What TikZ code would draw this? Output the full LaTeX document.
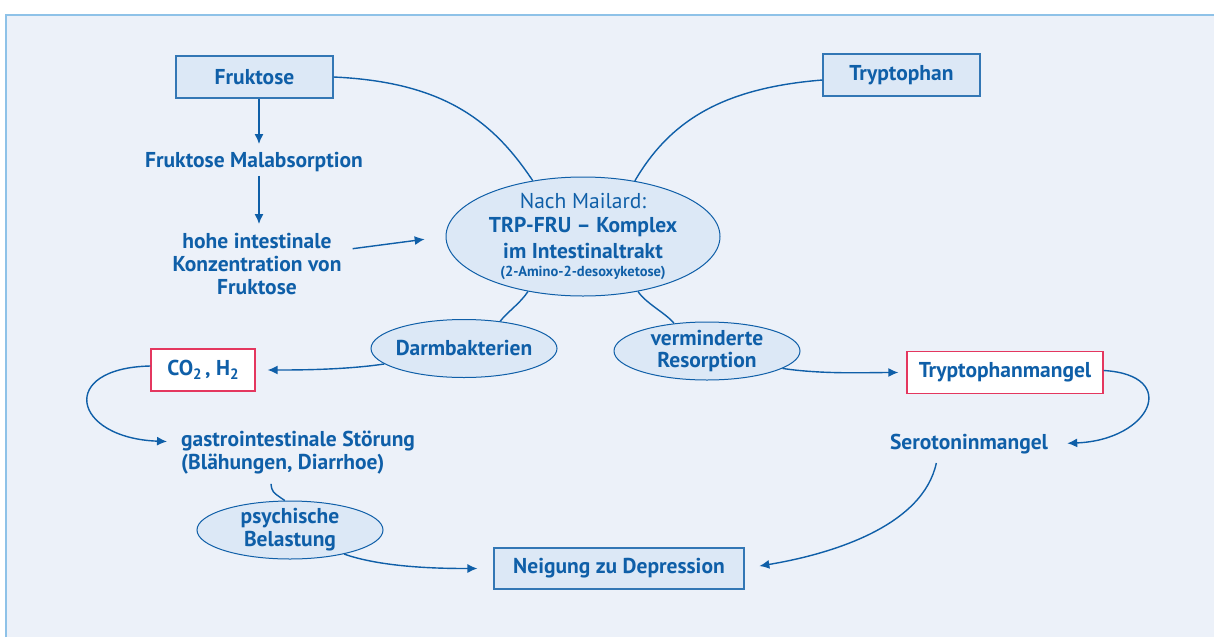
\documentclass[tikz,border=0pt]{standalone}
\usepackage{fontspec}
\setmainfont{PT Sans}
\usetikzlibrary{arrows.meta,shapes.geometric}
\tikzset{>={Latex[width=9pt,length=10pt]}}
\definecolor{dblue}{HTML}{0F5FA8}
\definecolor{lblue}{HTML}{DCE8F6}
\definecolor{bgblue}{HTML}{ECF1F9}
\definecolor{rimblue}{HTML}{8EC2E8}
\definecolor{mred}{HTML}{E4375F}
\newcommand\tiefzwei{\raisebox{-3.5pt}{\fontsize{15}{15}\selectfont 2}}

\begin{document}
\begin{tikzpicture}[x=1pt, y=-1pt,
  every node/.style={text=dblue, font=\fontsize{21.5}{23}\selectfont\bfseries},
  box/.style={draw=dblue!85, line width=1.1pt, fill=lblue, minimum height=42pt, inner sep=0pt},
  redbox/.style={draw=mred, line width=1.3pt, fill=white, minimum height=42pt, inner sep=0pt},
  oval/.style={ellipse, draw=dblue, line width=1pt, fill=lblue, inner xsep=-9pt, inner ysep=-5pt,
    align=center, minimum width=186pt, minimum height=58pt},
  txt/.style={align=center, inner sep=1pt},
  con/.style={draw=dblue, line width=1.4pt}]

  \useasboundingbox (0,0) rectangle (1214,637);
  \fill[white] (0,0) rectangle (1214,637);
  \fill[bgblue] (6,15) rectangle (1214,637);
  \draw[rimblue, line width=1.5pt] (6,637) -- (6,15) -- (1214,15);

  \node[box, minimum width=157pt] (fru) at (254.5,77) {Fruktose};
  \node[box, minimum width=157pt] (tryp) at (901.5,75) {Tryptophan};
  \node[txt] (mal) at (254,162) {Fruktose Malabsorption};
  \node[txt] (hohe) at (257,264) {hohe intestinale\\Konzentration von\\Fruktose};
  \node[oval, minimum width=274pt, minimum height=119pt] (komp) at (583,236.5)
    {{\mdseries Nach Mailard:}\\[1pt]TRP-FRU -- Komplex\\[3pt]im Intestinaltrakt\\[-5pt]
     {\fontsize{14.5}{16}\selectfont (2-Amino-2-desoxyketose)}};
  \node[oval] (darm) at (464,348.5) {Darmbakterien};
  \node[oval] (verm) at (707,351) {verminderte\\[-1pt]Resorption};
  \node[redbox, minimum width=104pt] (co) at (203,370) {CO\tiefzwei\,, H\tiefzwei};
  \node[redbox, minimum width=196pt] (tmang) at (1005,372.5) {Tryptophanmangel};
  \node[txt] (sero) at (969,444) {Serotoninmangel};
  \node[txt, align=left, anchor=west] (gastro) at (180,453) {gastrointestinale Störung\\(Blähungen, Diarrhoe)};
  \node[oval] (psych) at (290,530) {psychische\\Belastung};
  \node[box, minimum width=250pt, minimum height=41pt] (neig) at (619,568.5) {Neigung zu Depression};

  % Fruktose column
  \draw[con,->,shorten >=7pt] ([xshift=4.5pt]fru.south) -- ([xshift=4.5pt]fru.south |- mal.north);
  \draw[con,->,shorten <=3pt,shorten >=8pt] ([xshift=5pt]mal.south) -- ([xshift=5pt]mal.south |- hohe.north);
  \draw[con,->,shorten <=10pt,shorten >=21pt] ([yshift=14pt]hohe.east) -- (komp.west);

  % into the complex
  \draw[con] (fru.east) .. controls +(110,5) and +(-40,-60) .. (komp.132.5);
  \draw[con] ([yshift=-5pt]tryp.west) .. controls +(-100,8) and +(35,-60) .. (komp.47.5);
  \draw[con] (komp.225) .. controls +(-8,12) and +(8,-10) .. (darm.37);
  \draw[con] (komp.315) .. controls +(8,12) and +(-8,-10) .. (verm.140);

  % left branch
  \draw[con,->,shorten >=12pt] (darm.191) .. controls +(-40,6) and +(40,0) .. (co.east);
  \draw[con,->,shorten >=13pt] ([yshift=4pt]co.west) .. controls +(-93,2) and +(-108,-4) .. ([yshift=11pt]gastro.west);
  \draw[con] ([xshift=91pt,yshift=-8pt]gastro.south west) .. controls +(1,8) .. (psych.100);
  \draw[con,->,shorten >=16pt] (psych.336) .. controls +(40,14) and +(-50,0) .. (neig.west);

  % right branch
  \draw[con,->,shorten >=8pt] (verm.347) .. controls +(40,6) and +(-40,0) .. (tmang.west);
  \draw[con,->,shorten >=18pt] ([yshift=2pt]tmang.east) .. controls +(77,4.5) and +(102,-4) .. (sero.east);
  \draw[con,->,shorten <=8pt,shorten >=15pt] ([xshift=-31pt]sero.south) .. controls +(-15,70) and +(90,-15) .. (neig.east);

\end{tikzpicture}
\end{document}
